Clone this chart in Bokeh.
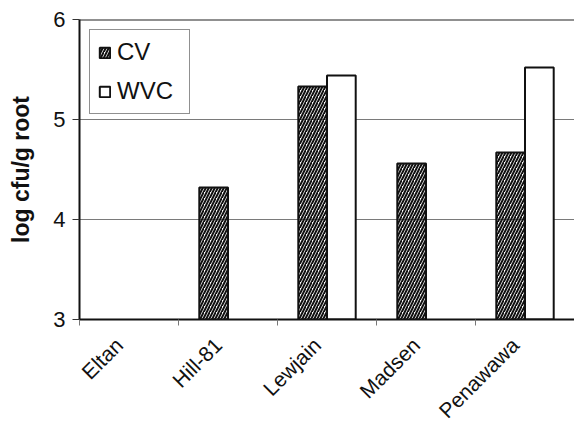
import math
from bokeh.plotting import figure
from bokeh.models import (Range1d, FixedTicker, Legend, LegendItem, Span, ColumnDataSource)
from bokeh.embed import file_html
from bokeh.resources import INLINE

# ---- data ----
cultivars = ["Eltan", "Hill-81", "Lewjain", "Madsen", "Penawawa"]
cv_values = [None, 4.32, 5.33, 4.56, 4.67]
wvc_values = [None, None, 5.44, None, 5.52]
y_ticks = [3, 4, 5, 6]
y_min, y_max = 3, 6
series_names = ["CV", "WVC"]

FONT = "Liberation Sans"
n = len(cultivars)
bw = 0.29          # bar width as fraction of a category
label_shift = 0.1  # rotated labels end slightly left of the category centre

# category i occupies [i, i+1] on the numeric x scale; centre at i + 0.5
cv_src = ColumnDataSource(dict(
    x=[i + 0.5 - bw / 2 for i, v in enumerate(cv_values) if v is not None],
    top=[v for v in cv_values if v is not None]))
wvc_src = ColumnDataSource(dict(
    x=[i + 0.5 + bw / 2 for i, v in enumerate(wvc_values) if v is not None],
    top=[v for v in wvc_values if v is not None]))

p = figure(width=574, height=435, x_range=Range1d(0, n),
           y_range=Range1d(y_min, y_max),
           output_backend="svg", toolbar_location=None)
p.min_border_left = 79
p.min_border_top = 19
p.min_border_right = 0
p.min_border_bottom = 116
p.outline_line_color = None
p.background_fill_color = "white"
p.border_fill_color = "white"

# grid
p.xgrid.visible = False
p.ygrid.ticker = FixedTicker(ticks=[t for t in y_ticks if y_min < t < y_max])
p.ygrid.grid_line_color = "#7a7a7a"
p.ygrid.grid_line_width = 1

p.add_layout(Span(location=y_max, dimension="width", line_color="#222222", line_width=2))

r_cv = p.vbar(x="x", top="top", bottom=y_min, width=bw,
              source=cv_src, fill_color=None, hatch_pattern="/", hatch_color="#111111",
              hatch_scale=6, hatch_weight=2, line_color="#111111", line_width=2)
r_wvc = p.vbar(x="x", top="top", bottom=y_min, width=bw,
               source=wvc_src, fill_color="white", line_color="#111111", line_width=2)

# y axis
ya = p.yaxis[0]
ya.ticker = FixedTicker(ticks=y_ticks)
ya.axis_label = "log cfu/g root"
ya.axis_label_text_font = FONT
ya.axis_label_text_font_style = "bold"
ya.axis_label_text_font_size = "23px"
ya.axis_label_text_color = "#111111"
ya.axis_label_standoff = 16
ya.major_label_text_font = FONT
ya.major_label_text_font_size = "22px"
ya.major_label_text_color = "#111111"
ya.major_label_standoff = 7
ya.axis_line_width = 2
ya.axis_line_color = "#111111"
ya.major_tick_out = 7
ya.major_tick_in = 0
ya.major_tick_line_color = "#333333"
ya.minor_tick_line_color = None

# x axis: labels near category centres, ticks at category boundaries
xa = p.xaxis[0]
xa.ticker = FixedTicker(ticks=[i + 0.5 - label_shift for i in range(n)],
                        minor_ticks=list(range(n + 1)))
xa.major_label_overrides = {i + 0.5 - label_shift: c for i, c in enumerate(cultivars)}
xa.major_label_orientation = math.pi / 4
xa.major_label_text_font = FONT
xa.major_label_text_font_size = "21px"
xa.major_label_text_color = "#111111"
xa.major_label_standoff = 16
xa.major_tick_out = 0
xa.major_tick_in = 0
xa.minor_tick_out = 6
xa.minor_tick_in = 0
xa.minor_tick_line_color = "#777777"
xa.minor_tick_line_width = 1
xa.axis_line_width = 2
xa.axis_line_color = "#111111"

legend = Legend(items=[LegendItem(label=series_names[0], renderers=[r_cv]),
                       LegendItem(label=series_names[1], renderers=[r_wvc])],
                location="top_left", margin=10, padding=8, spacing=11,
                glyph_width=13, glyph_height=13, label_standoff=6,
                label_height=28, label_width=64,
                label_text_font=FONT, label_text_font_size="24px",
                label_text_color="#111111",
                border_line_color="#222222", border_line_width=1,
                background_fill_color="white", background_fill_alpha=1)
p.add_layout(legend)

open("out.html", "w").write(file_html(p, INLINE))
